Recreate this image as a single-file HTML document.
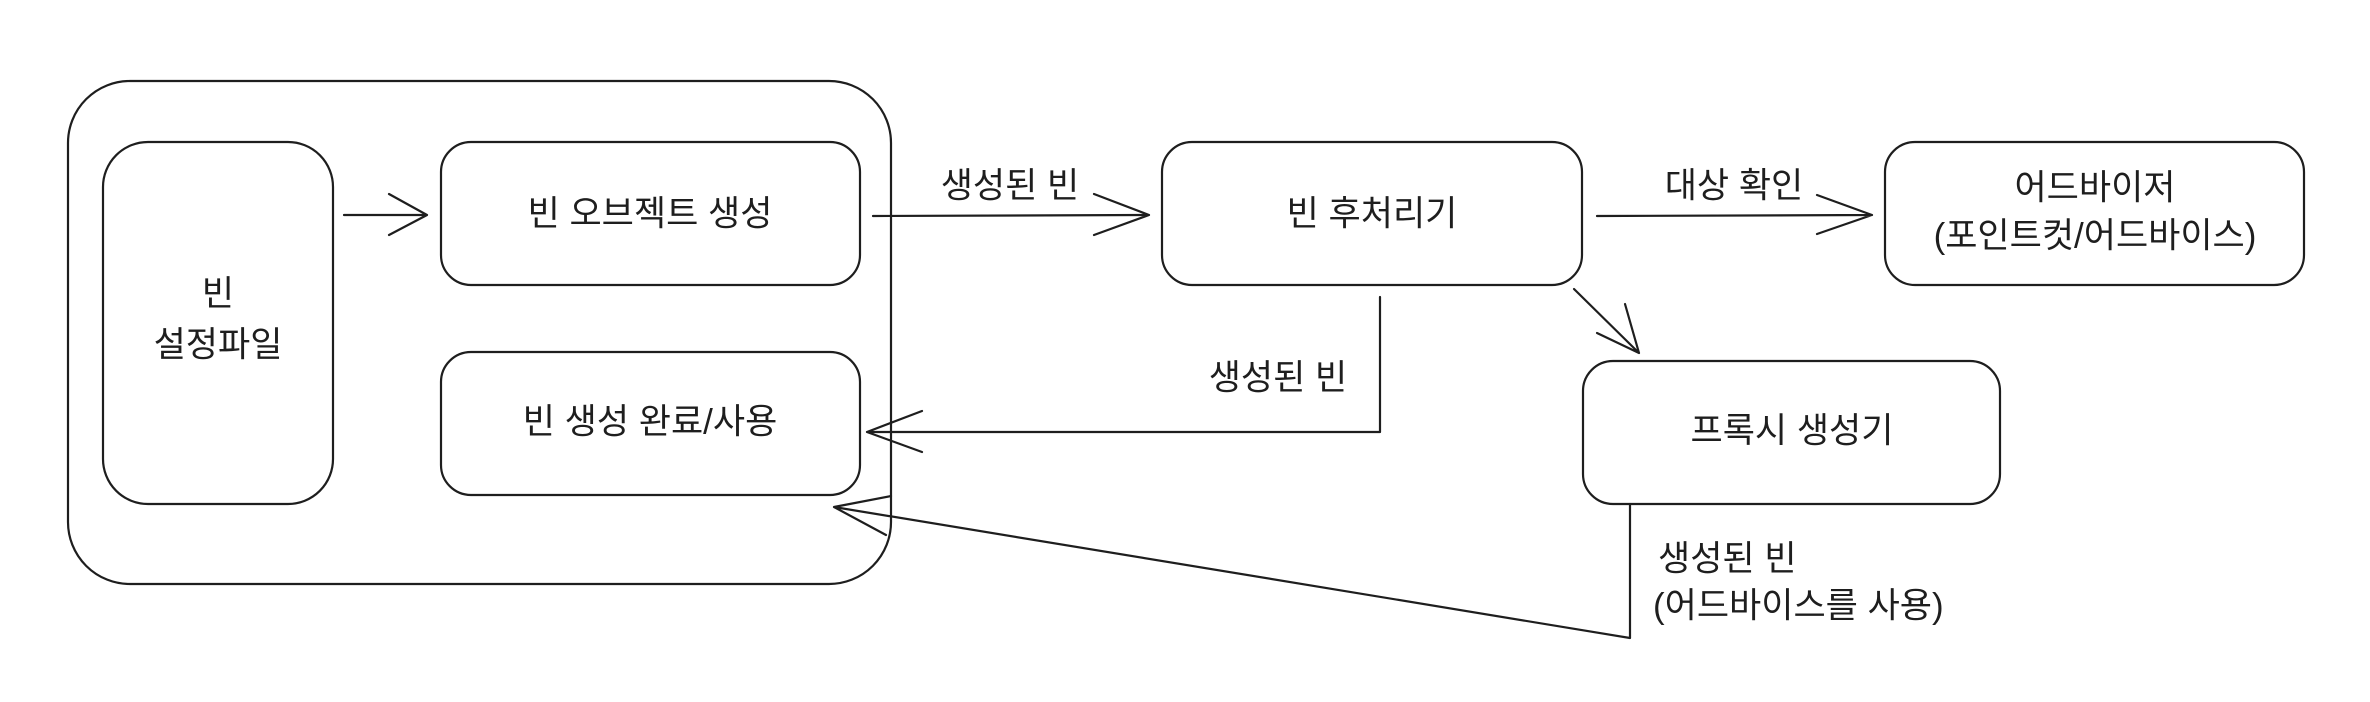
<!DOCTYPE html>
<html><head><meta charset="utf-8"><style>
html,body{margin:0;padding:0;background:#fff;}
svg{display:block;}
text{font-family:"Liberation Sans","Noto Sans CJK KR",sans-serif;font-size:35px;fill:#1e1e1e;text-anchor:middle;dominant-baseline:central;}
</style></head><body>
<svg width="2370" height="702" viewBox="0 0 2370 702" xmlns="http://www.w3.org/2000/svg">
<g fill="none" stroke="#1e1e1e" stroke-width="2.2" stroke-linecap="round" stroke-linejoin="round">
<rect x="68" y="81" width="823" height="503" rx="62"/>
<rect x="103" y="142" width="230" height="362" rx="45"/>
<rect x="441" y="142" width="419" height="143" rx="30"/>
<rect x="441" y="352" width="419" height="143" rx="30"/>
<rect x="1162" y="142" width="420" height="143" rx="30"/>
<rect x="1885" y="142" width="419" height="143" rx="30"/>
<rect x="1583" y="361" width="417" height="143" rx="30"/>
<path d="M344 215 L427 215 M389 194 L427 215 L389 235"/>
<path d="M873 216 L1149 215 M1094 194 L1149 215 L1094 235"/>
<path d="M1597 216 L1872 215 M1817 195 L1872 215 L1817 234"/>
<path d="M1574 289 L1639 353 M1597 333 L1639 353 L1625 304"/>
<path d="M1380 297 L1380 432 L867 432 M922 411 L867 432 L922 452"/>
<path d="M1630 504 L1630 638 L834 507 M891 496 L834 507 L886 535"/>
</g>
<text x="218" y="294">빈</text>
<text x="218" y="345">설정파일</text>
<text x="650" y="214">빈 오브젝트 생성</text>
<text x="650" y="422">빈 생성 완료/사용</text>
<text x="1372" y="214">빈 후처리기</text>
<text x="2095" y="188">어드바이저</text>
<text x="2095" y="236">(포인트컷/어드바이스)</text>
<text x="1792" y="431">프록시 생성기</text>
<text x="1010" y="186">생성된 빈</text>
<text x="1734" y="186">대상 확인</text>
<text x="1278" y="378">생성된 빈</text>
<text x="1658" y="559" style="text-anchor:start">생성된 빈</text>
<text x="1653" y="606" style="text-anchor:start">(어드바이스를 사용)</text>
</svg>
</body></html>
